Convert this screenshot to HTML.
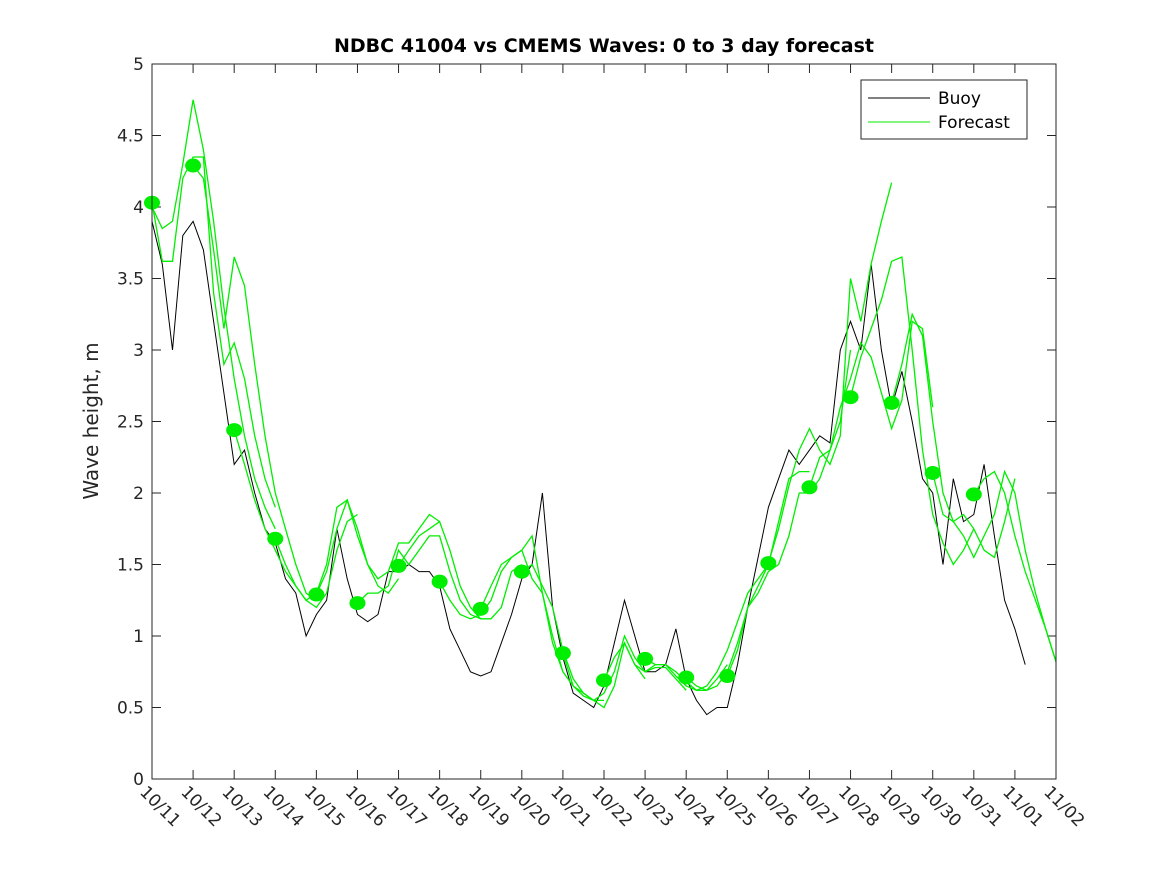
<!DOCTYPE html>
<html><head><meta charset="utf-8"><style>
body{margin:0;background:#fff;}
svg{display:block;font-family:"DejaVu Sans","Liberation Sans",sans-serif;}
</style></head><body>
<svg id="chart" width="1167" height="875" xmlns="http://www.w3.org/2000/svg">
<rect width="1167" height="875" fill="#fff"/>
<text x="604" y="52" text-anchor="middle" font-size="19" font-weight="bold" fill="#000">NDBC 41004 vs CMEMS Waves: 0 to 3 day forecast</text>
<text transform="translate(98,421) rotate(-90)" text-anchor="middle" font-size="20" fill="#262626">Wave height, m</text>
<g id="plot"></g>
<rect x="152" y="64" width="904" height="715" fill="none" stroke="#262626" stroke-width="1"/>
<g>
<rect x="861" y="80" width="166" height="59" fill="#fff" stroke="#262626"/>
<line x1="868" y1="98" x2="930" y2="98" stroke="#000"/>
<text x="938" y="104" font-size="17" fill="#000">Buoy</text>
<line x1="868" y1="122" x2="930" y2="122" stroke="#00ee00"/>
<text x="938" y="128" font-size="17" fill="#000">Forecast</text>
</g>
</svg>
<script>
const xTickLabels = ["10/11","10/12","10/13","10/14","10/15","10/16","10/17","10/18","10/19","10/20","10/21","10/22","10/23","10/24","10/25","10/26","10/27","10/28","10/29","10/30","10/31","11/01","11/02"];
const yTicks = [0,0.5,1,1.5,2,2.5,3,3.5,4,4.5,5];
const yTickLabels = ["0","0.5","1","1.5","2","2.5","3","3.5","4","4.5","5"];
// buoy wave height every 6h from 10/11 00h
const buoyValues = [3.9,3.6,3.0,3.8, 3.9,3.7,3.2,2.7, 2.2,2.3,2.0,1.75, 1.65,1.4,1.3,1.0,
 1.15,1.25,1.75,1.4, 1.15,1.1,1.15,1.45, 1.45,1.5,1.45,1.45, 1.35,1.05,0.9,0.75,
 0.72,0.75,0.95,1.15, 1.4,1.5,2.0,1.2, 0.85,0.6,0.55,0.5, 0.65,0.95,1.25,1.0,
 0.75,0.75,0.8,1.05, 0.7,0.55,0.45,0.5, 0.5,0.8,1.2,1.55, 1.9,2.1,2.3,2.2,
 2.3,2.4,2.35,3.0, 3.2,3.0,3.6,3.0, 2.6,2.85,2.5,2.1, 2.0,1.5,2.1,1.8,
 1.85,2.2,1.7,1.25, 1.05,0.8];
// forecast run start days and values every 6h
const runStarts = [0,0,1,2,3,4,5,6,7,8,9,10,11,12,13,14,15,16,17,18,19,20];
const runValues = [
 [4.0,3.85,3.9,4.3,4.75,4.4,3.9,3.3,2.8,2.4,2.1,1.9,1.75],
 [4.03,3.62,3.62,4.2,4.35,4.35,3.4,2.9,3.05,2.8,2.4,2.1,1.9],
 [4.29,4.2,3.7,3.15,3.65,3.45,2.9,2.4,2.0,1.75,1.5,1.3,1.25],
 [2.44,2.2,1.95,1.75,1.6,1.45,1.35,1.25,1.2,1.3,1.6,1.8,1.85],
 [1.68,1.5,1.35,1.25,1.3,1.5,1.9,1.95,1.7,1.5,1.35,1.3,1.4],
 [1.29,1.45,1.75,1.95,1.75,1.5,1.4,1.45,1.65,1.65,1.75,1.85,1.8],
 [1.23,1.3,1.3,1.35,1.6,1.5,1.6,1.7,1.7,1.45,1.25,1.15,1.12],
 [1.49,1.6,1.7,1.75,1.8,1.6,1.35,1.2,1.12,1.12,1.2,1.45,1.5],
 [1.38,1.25,1.15,1.12,1.15,1.25,1.45,1.55,1.6,1.7,1.3,0.95,0.75],
 [1.19,1.35,1.5,1.55,1.6,1.4,1.3,1.0,0.75,0.65,0.6,0.55,0.55],
 [1.45,1.5,1.35,1.2,0.9,0.7,0.6,0.55,0.5,0.65,0.95,0.8,0.7],
 [0.88,0.65,0.58,0.55,0.6,0.75,1.0,0.85,0.75,0.78,0.78,0.7,0.62],
 [0.69,0.85,0.95,0.8,0.75,0.8,0.8,0.75,0.68,0.62,0.62,0.7,0.8],
 [0.84,0.8,0.8,0.72,0.65,0.62,0.65,0.75,0.9,1.1,1.3,1.4,1.5],
 [0.71,0.65,0.62,0.65,0.75,0.95,1.2,1.35,1.5,1.8,2.1,2.15,2.15],
 [0.72,0.9,1.2,1.3,1.45,1.5,1.7,2.0,2.0,2.1,2.3,2.5,3.0],
 [1.51,1.75,2.05,2.3,2.45,2.3,2.2,2.4,3.5,3.2,3.6,3.9,4.17],
 [2.04,2.25,2.3,2.6,2.8,3.05,2.95,2.7,2.45,2.65,3.2,3.15,2.6],
 [2.67,2.95,3.15,3.35,3.62,3.65,3.0,2.3,1.85,1.65,1.5,1.6,1.75],
 [2.63,2.9,3.25,3.1,2.5,2.0,1.8,1.85,1.75,1.6,1.55,1.8,2.1],
 [2.14,1.85,1.8,1.7,1.55,1.7,1.85,2.15,2.0,1.6,1.3,1.05,0.82],
 [1.99,2.1,2.15,2.0,1.7,1.45,1.25,1.05,0.82]
];
const dotDays = [0,1,2,3,4,5,6,7,8,9,10,11,12,13,14,15,16,17,18,19,20];
const dotValues = [4.03,4.29,2.44,1.68,1.29,1.23,1.49,1.38,1.19,1.45,0.88,0.69,0.84,0.71,0.72,1.51,2.04,2.67,2.63,2.14,1.99];

const X0=152,X1=1056,Y0=779,Y1=64;
function xs(d){return X0+(X1-X0)*d/22;}
function ys(v){return Y0-(Y0-Y1)*v/5;}
const NS="http://www.w3.org/2000/svg";
const plot=document.getElementById('plot');
function mk(tag,attrs,parent){const e=document.createElementNS(NS,tag);for(const k in attrs)e.setAttribute(k,attrs[k]);(parent||plot).appendChild(e);return e;}

xTickLabels.forEach((lab,i)=>{
  const x=xs(i);
  const t1=mk('line',{x1:x,y1:Y0,x2:x,y2:Y0-9,stroke:'#262626'});
  
  
  const t2=mk('line',{x1:x,y1:Y1,x2:x,y2:Y1+9,stroke:'#262626'});
  
  
  const tx=mk('text',{x:0,y:0,'font-size':17,fill:'#262626',transform:`translate(${x-13},${Y0+14}) rotate(45)`});
  tx.textContent=lab;
  
  
});
yTicks.forEach((v,i)=>{
  const y=ys(v);
  const t1=mk('line',{x1:X0,y1:y,x2:X0+9,y2:y,stroke:'#262626'});
  
  
  const t2=mk('line',{x1:X1,y1:y,x2:X1-9,y2:y,stroke:'#262626'});
  
  
  const tx=mk('text',{x:X0-8,y:y+6,'font-size':17,fill:'#262626','text-anchor':'end'});
  tx.textContent=yTickLabels[i];
  
  
});

const bp=buoyValues.map((v,i)=>`${xs(i*0.25).toFixed(1)},${ys(v).toFixed(1)}`).join(' ');
const bl=mk('polyline',{points:bp,fill:'none',stroke:'#000','stroke-width':1});



runValues.forEach((vals,r)=>{
  const pts=vals.map((v,i)=>`${xs(runStarts[r]+i*0.25).toFixed(1)},${ys(v).toFixed(1)}`).join(' ');
  const pl=mk('polyline',{points:pts,fill:'none',stroke:'#00ee00','stroke-width':1.3});
  
  
});

dotValues.forEach((v,i)=>{
  const c=mk('ellipse',{cx:xs(dotDays[i]),cy:ys(v),rx:8,ry:7,fill:'#00ee00'});
  
  
});
</script>
</body></html>
